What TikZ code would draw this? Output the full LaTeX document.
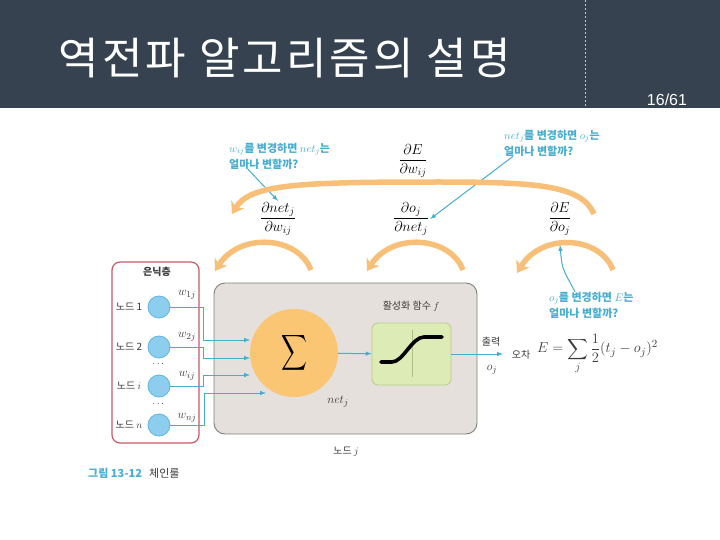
\documentclass[tikz,border=0pt]{standalone}
\usepackage{fontspec}
\usepackage{amsmath}
\newfontfamily\kr{Noto Sans CJK KR}
\newfontfamily\krtitle{Noto Sans CJK KR}[LetterSpace=7]
\newfontfamily\numfont{Liberation Sans}
\usetikzlibrary{arrows.meta}

\definecolor{headbg}{HTML}{36424F}
\definecolor{notecyan}{HTML}{47ADCF}
\definecolor{chainorange}{HTML}{F8BF79}
\definecolor{sumorange}{HTML}{FAC674}
\definecolor{boxgrey}{HTML}{E5E0DB}
\definecolor{boxedge}{HTML}{857F7A}
\definecolor{actgreen}{HTML}{DDEBB6}
\definecolor{actedge}{HTML}{B9D08A}
\definecolor{hidfill}{HTML}{8DCDEE}
\definecolor{hidedge}{HTML}{5FB6DF}
\definecolor{hidred}{HTML}{C75A64}
\definecolor{textgrey}{HTML}{3A3A3A}

\tikzset{
  note/.style={font=\kr\bfseries\fontsize{11}{16}\selectfont, text=notecyan, align=left, inner sep=0pt},
  label/.style={font=\kr\fontsize{10}{12}\selectfont, text=textgrey, inner sep=1pt},
  chain/.style={line width=5.5pt, draw=chainorange, -{Stealth[length=11pt, width=15pt, inset=3pt]}},
  frac/.style={font=\fontsize{14}{16}\selectfont, inner sep=1pt},
}

\begin{document}
\begin{tikzpicture}[x=1pt, y=-1pt]
\useasboundingbox (0,0) rectangle (720,540);

% header
\fill[headbg] (0,0) rectangle (720,108);
\draw[draw=gray!45, line width=0.8pt, dash pattern=on 2pt off 2pt] (585,0) -- (585,108);
\node[anchor=west, text=white, font=\krtitle\fontsize{44}{48}\selectfont] (title) at (55,58) {역전파 알고리즘의 설명};
\node[text=white, font=\numfont\fontsize{16}{18}\selectfont] (page) at (667,100) {16/61};

% boxes
\node[draw=hidred, line width=1.2pt, rounded corners=8pt, fill=white, minimum width=87pt, minimum height=181pt] (hidden) at (155.5,352.5) {};
\node[draw=boxedge, line width=0.9pt, rounded corners=11pt, fill=boxgrey, minimum width=263pt, minimum height=151pt] (nodej) at (345.5,358.5) {};
\node[circle, fill=sumorange, minimum size=88pt, inner sep=0pt] (sum) at (294,353) {\fontsize{28}{28}\selectfont\scalebox{0.72}[1]{$\displaystyle\sum$}};
\node[draw=actedge, line width=0.9pt, rounded corners=6pt, fill=actgreen, minimum width=79pt, minimum height=62pt] (act) at (411.5,354) {};
\draw[draw=actedge!80!gray, line width=0.6pt] (412,330) -- (412,377);
\draw[line width=3.6pt, line cap=round] (381,362) -- (392,362) .. controls (403,362) and (412,337) .. (424,337) -- (442,337);

% hidden layer nodes
\begin{scope}[every node/.style={circle, draw=hidedge, fill=hidfill, line width=0.8pt, minimum size=22pt, inner sep=0pt}]
\node (n1) at (159,307) {};
\node (n2) at (159,347) {};
\node (n3) at (159,386) {};
\node (n4) at (159,425) {};
\end{scope}

\begin{scope}[every node/.style={label}]
\node (hid) at (157,272) {\bfseries 은닉층};
\node (l1) at (129,307) {노드 1};
\node (l2) at (129,347) {노드 2};
\node (l3) at (129,386) {노드 $i$};
\node (l4) at (129,425) {노드 $n$};
\node (d1) at (159,364) {$\cdots$};
\node (d2) at (159,404) {$\cdots$};
\node (actlab) at (411,306) {활성화 함수 $f$};
\node (outlab) at (491,342) {출력};
\node (errlab) at (521,355) {오차};
\node (jlab) at (346,452) {노드 $j$};
\end{scope}

\begin{scope}[every node/.style={font=\fontsize{13}{15}\selectfont, text=textgrey, inner sep=1pt}]
\node (w1) at (187,295) {$w_{1j}$};
\node (w2) at (187,337) {$w_{2j}$};
\node (w3) at (187,376) {$w_{ij}$};
\node (w4) at (187,418) {$w_{nj}$};
\node (netj) at (338,402) {$net_j$};
\node (oj) at (492,370) {$o_j$};
\node[anchor=west, font=\fontsize{15}{17}\selectfont] (err) at (536,354) {$E=\displaystyle\sum_j\frac{1}{2}(t_j-o_j)^2$};
\end{scope}

% chain rule terms
\begin{scope}[every node/.style={frac}]
\node (dEw) at (413,161) {$\dfrac{\partial E}{\partial w_{ij}}$};
\node (f1) at (278,219) {$\dfrac{\partial net_j}{\partial w_{ij}}$};
\node (f2) at (411,219) {$\dfrac{\partial o_j}{\partial net_j}$};
\node (f3) at (560,219) {$\dfrac{\partial E}{\partial o_j}$};
\end{scope}

% questions
\node[note, anchor=west] (q1) at (229,156) {$w_{ij}$를 변경하면 $net_j$는\\얼마나 변할까?};
\node[note, anchor=west] (q2) at (504,143) {$net_j$를 변경하면 $o_j$는\\얼마나 변할까?};
\node[note, anchor=west] (q3) at (549,305) {$o_j$를 변경하면 $E$는\\얼마나 변할까?};

% caption
\node[anchor=west, font=\kr\bfseries\fontsize{11}{13}\selectfont, text=notecyan, inner sep=0pt] (fig) at (88,473) {그림 13-12};
\node[anchor=west, font=\kr\fontsize{11}{13}\selectfont, text=textgrey, inner sep=0pt] (figname) at (149,473) {체인룰};

% input wires
\coordinate (k1) at (203,340);
\coordinate (k2) at (203,358);
\coordinate (k3) at (203,375);
\coordinate (k4) at (204,393);
\coordinate (s1) at (250,340);
\coordinate (s2) at (250,358);
\coordinate (s3) at (250,375);
\coordinate (s4) at (266,393);
\coordinate (out) at (503,354);
\begin{scope}[-latex, draw=notecyan, line width=1pt]
\draw (n1) -| (k1) -- (s1);
\draw (n2) -| (k2) -- (s2);
\draw (n3) -| (k3) -- (s3);
\draw (n4) -| (k4) -- (s4);
\draw (sum) -- (act);
\draw (act) -- (out);
\draw ([xshift=19pt]q1.south west) -- (f1.north);
\draw ([xshift=9pt]q2.south west) -- (f2.east);
\draw ([xshift=26pt]q3.north west) .. controls (562,268) .. ([yshift=-8pt]f3.south);
\end{scope}

% orange chain arrows
\draw[chain] (594,214) .. controls (582,186) and (540,182) .. (440,182) .. controls (300,182) and (250,184) .. (232,214);
\draw[chain] (311,270) .. controls (298,236) and (240,232) .. (215,271);
\draw[chain] (463,270) .. controls (450,236) and (392,232) .. (367,271);
\draw[chain] (613,270) .. controls (600,236) and (542,232) .. (517,273);

\end{tikzpicture}
\end{document}
